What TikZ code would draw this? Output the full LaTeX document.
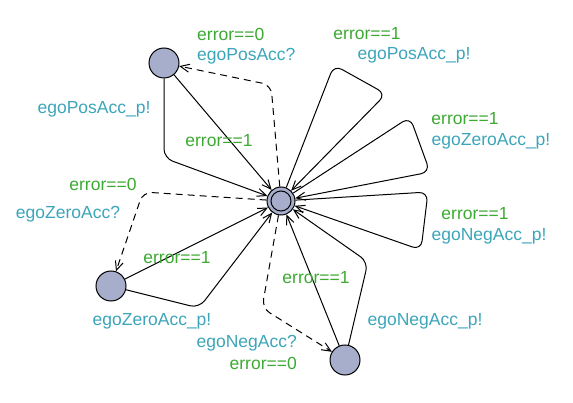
\documentclass[tikz,border=0pt]{standalone}
\usepackage{fontspec}
\setmainfont{Liberation Sans}
\usetikzlibrary{arrows.meta}

\definecolor{locfill}{RGB}{166,174,204}
\definecolor{guardc}{RGB}{60,170,50}
\definecolor{syncc}{RGB}{60,165,185}

\tikzset{
  loc/.style={circle,draw,fill=locfill,minimum size=30pt,inner sep=0pt,line width=1pt},
  lbl/.style={inner sep=0pt,font=\fontsize{17.5}{20}\selectfont},
  guard/.style={lbl,text=guardc},
  sync/.style={lbl,text=syncc},
  trans/.style={line width=1pt,-{Straight Barb[length=9pt,width=8pt]},rounded corners=9pt},
  recv/.style={trans,dash pattern=on 7pt off 5pt}
}

\begin{document}
\begin{tikzpicture}[x=1pt,y=-1pt]

    \useasboundingbox (0,0) rectangle (573,403);

    % locations
    \node[loc,minimum size=28pt] (idle) at (281,201) {};
    \node[loc,minimum size=20pt] (idlein) at (idle) {};
    \node[loc] (pos) at (164,63) {};
    \node[loc] (zero) at (111,286) {};
    \node[loc] (neg) at (345,360) {};

    % positive acceleration
    \draw[recv] (idle) -- (271,85) -- (pos);
    \draw[trans] (pos) -- (idle);
    \draw[trans] (pos) -- (164,158) -- (idle);
    \node[guard,anchor=west] (g_pos_in) at (197,34) {error==0};
    \node[sync,anchor=west] (s_pos_in) at (197,56) {egoPosAcc?};
    \node[guard] (g_pos_out) at (219,141) {error==1};
    \node[sync] (s_pos_out) at (94,109) {egoPosAcc\_p!};

    % zero acceleration
    \draw[recv] (idle) -- (143,192) -- (zero);
    \draw[trans] (zero) -- (idle);
    \draw[trans] (zero) -- (199,308) -- (idle);
    \node[guard] (g_zero_in) at (103,184) {error==0};
    \node[sync] (s_zero_in) at (68,214) {egoZeroAcc?};
    \node[guard] (g_zero_out) at (177,258) {error==1};
    \node[sync] (s_zero_out) at (152,321) {egoZeroAcc\_p!};

    % negative acceleration
    \draw[recv] (idle) -- (262,308) -- (neg);
    \draw[trans] (neg) -- (idle);
    \draw[trans] (neg) -- (368,262) -- (idle);
    \node[sync,anchor=east] (s_neg_in) at (297,343) {egoNegAcc?};
    \node[guard,anchor=east] (g_neg_in) at (297,363) {error==0};
    \node[guard] (g_neg_out) at (316,278) {error==1};
    \node[sync] (s_neg_out) at (425,321) {egoNegAcc\_p!};

    % self loops
    \draw[trans] (idle) -- (334,65) -- (386,94) -- (idle);
    \draw[trans] (idle) -- (410,117) -- (430,172) -- (idle);
    \draw[trans] (idle) -- (428,192) -- (421,250) -- (idle);
    \node[guard] (g_loop_pos) at (367,34) {error==1};
    \node[sync] (s_loop_pos) at (414,55) {egoPosAcc\_p!};
    \node[guard] (g_loop_zero) at (465,119) {error==1};
    \node[sync] (s_loop_zero) at (491,141) {egoZeroAcc\_p!};
    \node[guard] (g_loop_neg) at (475,214) {error==1};
    \node[sync] (s_loop_neg) at (489,236) {egoNegAcc\_p!};

\end{tikzpicture}
\end{document}
